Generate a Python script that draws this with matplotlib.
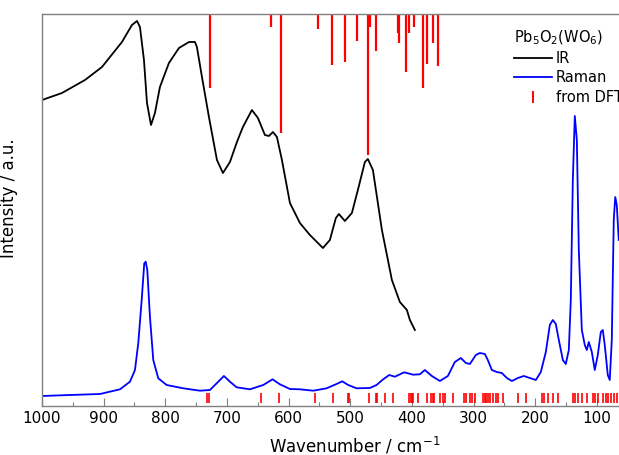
import matplotlib.pyplot as plt
from matplotlib.lines import Line2D
from matplotlib.ticker import MultipleLocator

# IR spectrum (wavenumber / cm-1, intensity a.u.)
ir_wn = [1000, 967.6, 930.3, 902.7, 870.3, 854.1, 845.9, 841.1, 834.6, 829.7,
         823.2, 816.8, 808.7, 794.1, 777.8, 761.6, 751.9, 748.7, 740.5, 729.2,
         716.2, 706.5, 695.1, 683.8, 674.1, 659.5, 649.7, 638.4, 631.9, 625.4,
         618.9, 610.8, 597.8, 581.6, 565.4, 544.3, 533.0, 523.3, 518.4, 508.7,
         497.3, 487.6, 476.2, 471.4, 463.2, 448.6, 432.4, 419.5, 408.1, 403.2,
         395.1]
ir_int = [306, 313, 326, 339, 364, 381, 385, 379, 346, 303,
          281, 293, 319, 343, 358, 364, 364, 359, 329, 289,
          246, 233, 244, 264, 279, 296, 288, 271, 270, 274,
          269, 246, 203, 183, 171, 158, 166, 188, 192, 185,
          193, 216, 244, 247, 236, 176, 126, 104, 96, 86,
          76]

# Raman spectrum
ra_wn = [1000, 954.6, 905.9, 873.5, 857.3, 849.2, 843.8, 838.3, 834.1, 831.8,
         829.2, 824.9, 819.5, 811.4, 797.8, 770.9, 743.8, 727.6, 716.7, 704.9,
         695.1, 684.3, 662.7, 641.1, 626.0, 614.1, 597.8, 581.6, 560.1, 538.3,
         522.2, 513.0, 503.3, 489.7, 468.1, 457.3, 446.5, 436.8, 427.6, 412.5,
         397.9, 387.0, 378.9, 367.6, 354.6, 341.6, 330.3, 320.5, 312.4, 305.9,
         296.2, 289.7, 281.6, 276.8, 270.3, 262.2, 254.1, 245.9, 237.8, 228.1,
         218.4, 208.7, 198.9, 190.8, 182.7, 176.2, 171.4, 166.5, 161.6, 155.1,
         150.3, 145.4, 142.2, 138.9, 135.7, 132.4, 129.2, 124.3, 119.5, 116.2,
         113.0, 108.1, 103.3, 98.4, 93.5, 90.3, 87.1, 82.2, 79.0, 75.7,
         72.5, 70.1, 67.6, 64.4]
ra_int = [10, 11, 12, 16.7, 24.3, 36, 63, 106, 142.7, 144.3,
          136, 89.3, 46, 27.7, 21, 17.7, 15.3, 16, 22.7, 30,
          24.3, 18.7, 16.7, 21, 26.7, 21.7, 17, 16.7, 15.3, 17.7,
          22, 24.7, 21, 17.7, 18, 21, 26.7, 31, 29.3, 33.7,
          31.3, 31.7, 36, 30, 25, 30, 44, 48, 43, 42,
          51, 53, 52, 46, 36, 34, 33, 28, 25, 28,
          30, 28, 26, 34, 54, 81, 86, 82, 66, 46,
          42, 56, 106, 226, 290, 266, 156, 76, 61, 56,
          64, 54, 36, 51, 74, 76, 61, 31, 26, 66,
          186, 209, 201, 166]

# DFT IR modes (position, relative intensity)
dft_ir_wn = [727, 628, 613, 553, 530, 509, 489, 471, 468, 458,
             423, 421, 410, 405, 397, 382, 375, 365, 357]
dft_ir_int = [74, 13, 119, 15, 51, 48, 27, 141, 13, 37,
              19, 29, 58, 19, 13, 74, 50, 29, 52]

# DFT Raman modes (positions only)
dft_ra_wn = [732.4, 729.2, 644.4, 615.7, 557.3, 528.6, 503.3, 501.7, 469.2, 458.4,
             456.8, 443.8, 430.3, 404.4, 402.2, 400.0, 397.9, 389.8, 376.2, 369.2,
             366.5, 363.9, 354.6, 349.3, 346.5, 334.0, 315.2, 312.4, 305.9, 303.2,
             297.8, 284.4, 281.7, 279.0, 276.3, 273.5, 268.2, 262.8, 260.1, 252.1,
             227.7, 215.2, 188.7, 186.0, 179.0, 171.8, 162.8, 138.4, 135.6, 130.3,
             124.8, 116.7, 106.0, 103.3, 97.9, 89.8, 85.4, 81.1, 76.8, 72.4, 68.0]

top = 392

fig = plt.figure(figsize=(6.19, 4.55), dpi=100)
ax = fig.add_axes([42 / 619, 49 / 455, 577 / 619, 392 / 455])

ax.plot(ir_wn, ir_int, color='black', lw=1.3)
ax.plot(ra_wn, ra_int, color='#0000ff', lw=1.3)
ax.vlines(dft_ir_wn, [top - v for v in dft_ir_int], top, color='red', lw=1.6)
ax.vlines(dft_ra_wn, 3, 13, color='red', lw=1.2)

ax.set_xlim(1000, 64)
ax.set_ylim(0, top)

ax.xaxis.set_major_locator(MultipleLocator(100))
ax.xaxis.set_minor_locator(MultipleLocator(50))
ax.tick_params(axis='x', which='both', direction='in', top=False,
               color='#808080', labelsize=11)
ax.tick_params(axis='x', which='major', length=6, width=0.8)
ax.tick_params(axis='x', which='minor', length=3, width=0.8)
ax.set_yticks([])

for side in ['left', 'top', 'bottom']:
    ax.spines[side].set_color('#808080')
    ax.spines[side].set_linewidth(1.0)
ax.spines['right'].set_visible(False)

ax.set_xlabel('Wavenumber / cm$^{-1}$', fontsize=12)
ax.xaxis.set_label_coords(0.542, -0.075)
ax.set_ylabel('Intensity / a.u.', fontsize=12)
ax.yaxis.set_label_coords(-0.042, 0.53)

handles = [Line2D([], [], color='black', lw=1.3),
           Line2D([], [], color='#0000ff', lw=1.3),
           Line2D([], [], color='red', marker='|', ls='none', markersize=8, mew=1.4)]
ax.legend(handles, ['IR', 'Raman', 'from DFT'], title='Pb$_5$O$_2$(WO$_6$)',
          loc='upper left', bbox_to_anchor=(0.80, 0.99), frameon=False,
          fontsize=10.5, title_fontsize=10.5, alignment='left',
          handlelength=2.6, handletextpad=0.3, labelspacing=0.3, borderpad=0.2)

plt.savefig('out.png')
